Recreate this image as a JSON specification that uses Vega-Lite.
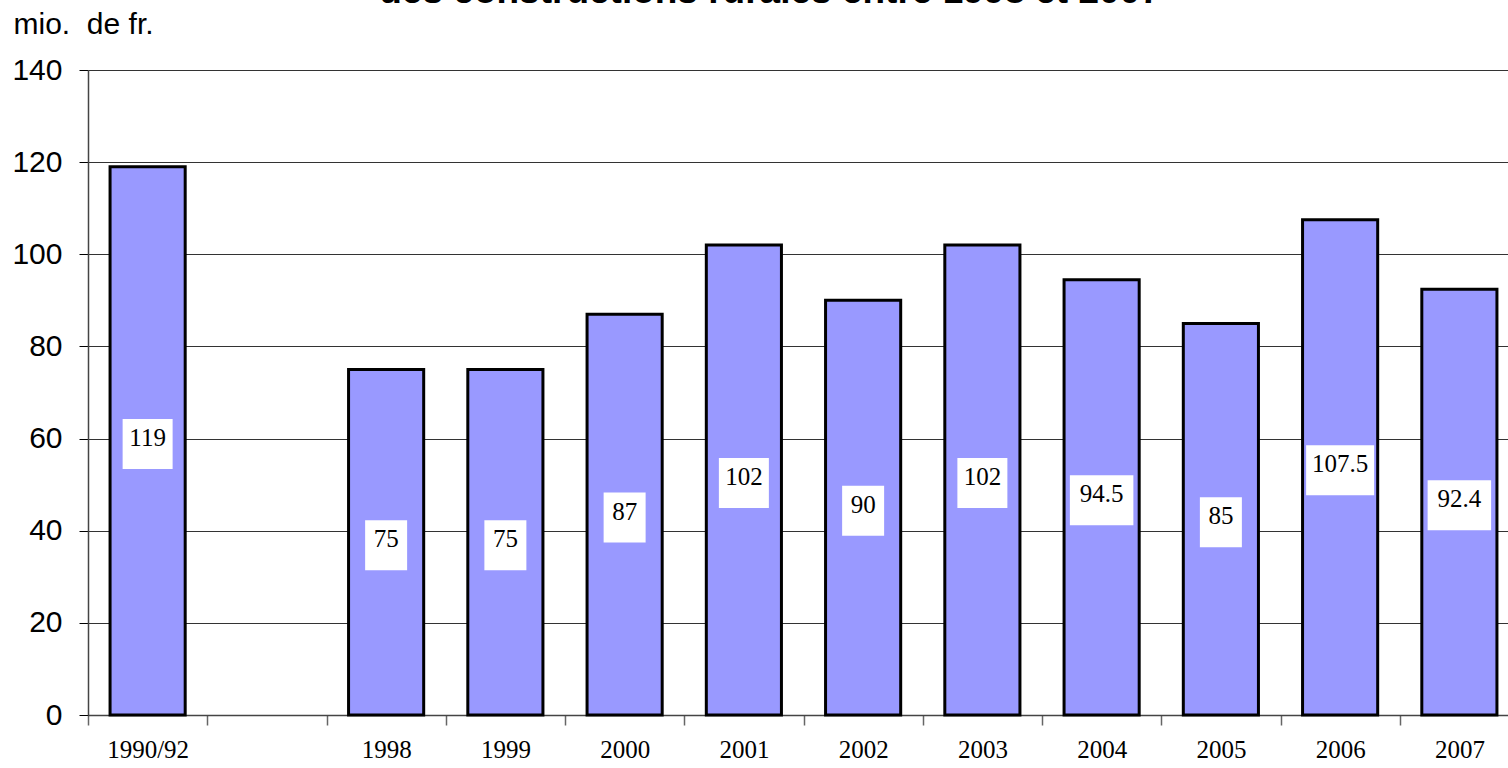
{
  "$schema": "https://vega.github.io/schema/vega-lite/v6.json",
  "width": 1420,
  "height": 645,
  "autosize": {"type": "none"},
  "padding": {"left": 88, "top": 70, "right": 0, "bottom": 53},
  "background": "white",
  "title": {
    "text": "des constructions rurales entre 1998 et 2007",
    "font": "Liberation Sans",
    "fontSize": 37,
    "fontWeight": "bold",
    "color": "black",
    "anchor": "middle",
    "frame": "group",
    "baseline": "alphabetic",
    "offset": 0,
    "dx": -28,
    "dy": 31
  },
  "config": {"view": {"stroke": null}},
  "data": {
    "values": [
      {"year": "1990/92", "value": 119},
      {"year": "1998", "value": 75},
      {"year": "1999", "value": 75},
      {"year": "2000", "value": 87},
      {"year": "2001", "value": 102},
      {"year": "2002", "value": 90},
      {"year": "2003", "value": 102},
      {"year": "2004", "value": 94.5},
      {"year": "2005", "value": 85},
      {"year": "2006", "value": 107.5},
      {"year": "2007", "value": 92.4}
    ]
  },
  "layer": [
    {
      "mark": {"type": "bar", "fill": "#9999FF", "stroke": "black", "strokeWidth": 3, "width": {"band": 0.63}},
      "encoding": {
        "x": {
          "field": "year",
          "type": "nominal",
          "sort": null,
          "scale": {
            "domain": ["1990/92", " ", "1998", "1999", "2000", "2001", "2002", "2003", "2004", "2005", "2006", "2007"],
            "range": [0, 1431],
            "paddingInner": 0,
            "paddingOuter": 0
          },
          "axis": {
            "title": null,
            "labelFont": "Liberation Serif",
            "labelFontSize": 25,
            "labelColor": "black",
            "labelAngle": 0,
            "tickBand": "extent",
            "tickSize": 10,
            "tickColor": "#666",
            "tickWidth": 1.5,
            "domainColor": "#444",
            "domainWidth": 1.5,
            "labelPadding": 12,
            "grid": false
          }
        },
        "y": {
          "field": "value",
          "type": "quantitative",
          "scale": {"domain": [0, 140], "nice": false, "zero": true},
          "axis": {
            "title": "mio.\u00a0\u00a0de fr.",
            "titleAngle": 0,
            "titleX": -75,
            "titleY": -37,
            "titleAlign": "left",
            "titleBaseline": "alphabetic",
            "titleFont": "Liberation Sans",
            "titleFontSize": 30,
            "titleFontWeight": "normal",
            "titleColor": "black",
            "labelFont": "Liberation Sans",
            "labelFontSize": 30,
            "labelColor": "black",
            "values": [0, 20, 40, 60, 80, 100, 120, 140],
            "tickSize": 9,
            "tickColor": "black",
            "domainColor": "#444",
            "domainWidth": 1.5,
            "labelPadding": 17,
            "grid": true,
            "gridColor": "#333",
            "gridWidth": 1
          }
        }
      }
    },
    {
      "transform": [{"filter": "length(toString(datum.value)) == 2"}],
      "mark": {"type": "point", "shape": "M-0.84,-1H0.84V1H-0.84Z", "size": 2500, "filled": true, "fill": "white", "opacity": 1, "strokeWidth": 0, "yOffset": 3},
      "encoding": {
        "x": {"field": "year", "type": "nominal", "sort": null},
        "y": {"field": "value", "type": "quantitative", "scale": {"domain": [0, 280], "nice": false}, "axis": null}
      }
    },
    {
      "transform": [{"filter": "length(toString(datum.value)) == 3"}],
      "mark": {"type": "point", "shape": "M-1,-1H1V1H-1Z", "size": 2500, "filled": true, "fill": "white", "opacity": 1, "strokeWidth": 0, "yOffset": 3},
      "encoding": {
        "x": {"field": "year", "type": "nominal", "sort": null},
        "y": {"field": "value", "type": "quantitative", "scale": {"domain": [0, 280], "nice": false}, "axis": null}
      }
    },
    {
      "transform": [{"filter": "length(toString(datum.value)) == 4"}],
      "mark": {"type": "point", "shape": "M-1.27,-1H1.27V1H-1.27Z", "size": 2500, "filled": true, "fill": "white", "opacity": 1, "strokeWidth": 0, "yOffset": 3},
      "encoding": {
        "x": {"field": "year", "type": "nominal", "sort": null},
        "y": {"field": "value", "type": "quantitative", "scale": {"domain": [0, 280], "nice": false}, "axis": null}
      }
    },
    {
      "transform": [{"filter": "length(toString(datum.value)) == 5"}],
      "mark": {"type": "point", "shape": "M-1.36,-1H1.36V1H-1.36Z", "size": 2500, "filled": true, "fill": "white", "opacity": 1, "strokeWidth": 0, "yOffset": 3},
      "encoding": {
        "x": {"field": "year", "type": "nominal", "sort": null},
        "y": {"field": "value", "type": "quantitative", "scale": {"domain": [0, 280], "nice": false}, "axis": null}
      }
    },
    {
      "mark": {"type": "text", "font": "Liberation Serif", "fontSize": 25, "color": "black", "baseline": "alphabetic", "align": "center", "dy": 5},
      "encoding": {
        "x": {"field": "year", "type": "nominal", "sort": null},
        "y": {"field": "value", "type": "quantitative", "scale": {"domain": [0, 280], "nice": false}, "axis": null},
        "text": {"field": "value", "type": "nominal"}
      }
    }
  ],
  "resolve": {"scale": {"y": "independent"}}
}
